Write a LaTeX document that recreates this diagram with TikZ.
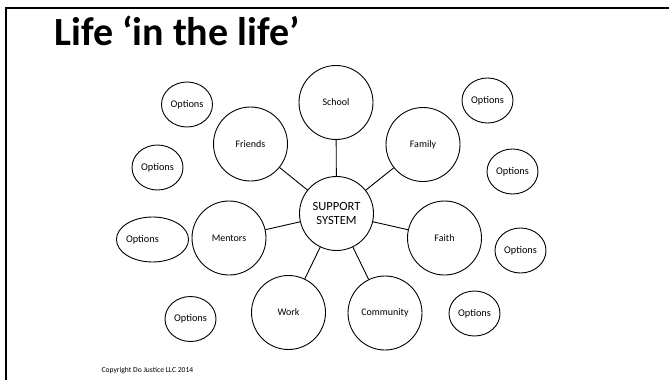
\documentclass[tikz,border=0pt]{standalone}
\usepackage{fontspec}
\setmainfont{Carlito}
\usetikzlibrary{shapes.geometric}
\tikzset{
  bigc/.style={draw, circle, minimum size=74pt, inner sep=0pt, line width=0.9pt, font=\fontsize{10}{12}\selectfont},
  optc/.style={draw, ellipse, minimum width=51pt, minimum height=45pt, inner sep=0pt, line width=0.9pt, font=\fontsize{10.3}{12}\selectfont},
  link/.style={line width=0.9pt}
}
\begin{document}
\begin{tikzpicture}[x=1pt,y=-1pt]
\useasboundingbox (0,0) rectangle (669,380);
\fill[white] (0,0) rectangle (669,380);
\draw[line width=2pt] (669,8) -- (6,8) -- (6,380);
\node[anchor=base west, font=\fontsize{40}{44}\bfseries] (title) at (51,45) {Life ‘in the life’};
\node[bigc, font=\fontsize{12.5}{13.5}\selectfont, align=center] (ss) at (336.5,213.5) {SUPPORT\\SYSTEM};
\node[bigc] (school) at (336,102.5) {School};
\node[bigc] (friends) at (250.5,144) {Friends};
\node[bigc] (family) at (423,144.5) {Family};
\node[bigc] (mentors) at (229,238) {Mentors};
\node[bigc] (faith) at (444.5,238) {Faith};
\node[bigc] (work) at (288.5,312.5) {Work};
\node[bigc] (community) at (385,313) {Community};
\node[optc] (o1) at (187,104.5) {Options};
\node[optc] (o2) at (157.5,167.5) {Options};
\node[optc, text width=51pt, align=left] (o3) at (152.5,239.5) {\hspace*{-1pt}Options};
\node[optc] (o4) at (190.5,319) {Options};
\node[optc] (o5) at (487.5,100.5) {Options};
\node[optc] (o6) at (512.5,171.5) {Options};
\node[optc] (o7) at (520.5,250.5) {Options};
\node[optc] (o8) at (474.5,313.5) {Options};
\draw[link] (ss) -- (school);
\draw[link] (ss) -- (friends);
\draw[link] (ss) -- (family);
\draw[link] (ss) -- (mentors);
\draw[link] (ss) -- (faith);
\draw[link] (ss) -- (work);
\draw[link] (ss) -- (community);
\node[anchor=base west, font=\fontsize{7.6}{8}\selectfont] (copy) at (98,372) {Copyright Do Justice LLC 2014};
\end{tikzpicture}
\end{document}
